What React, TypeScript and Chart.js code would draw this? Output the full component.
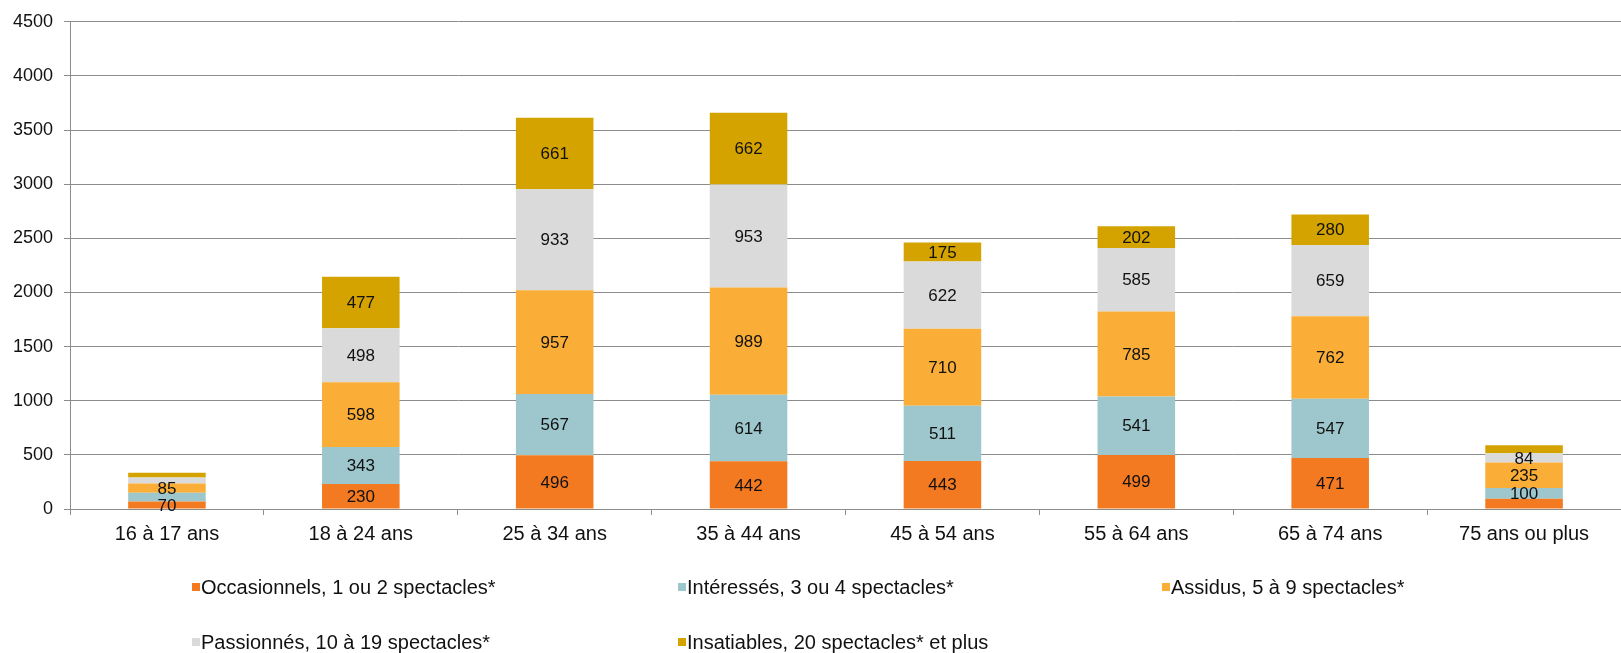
import React, { useEffect, useRef } from "react";
import { Chart, registerables } from "chart.js";

Chart.register(...registerables);

const categories = ["16 à 17 ans", "18 à 24 ans", "25 à 34 ans", "35 à 44 ans", "45 à 54 ans", "55 à 64 ans", "65 à 74 ans", "75 ans ou plus"];

const occasionnels = [70, 230, 496, 442, 443, 499, 471, 95];
const interesses = [80, 343, 567, 614, 511, 541, 547, 100];
const assidus = [85, 598, 957, 989, 710, 785, 762, 235];
const passionnes = [55, 498, 933, 953, 622, 585, 659, 84];
const insatiables = [45, 477, 661, 662, 175, 202, 280, 75];

// which values carry a printed label in the original (1 = shown)
const occasionnelsLabels = [1, 1, 1, 1, 1, 1, 1, 0];
const interessesLabels = [0, 1, 1, 1, 1, 1, 1, 1];
const assidusLabels = [1, 1, 1, 1, 1, 1, 1, 1];
const passionnesLabels = [0, 1, 1, 1, 1, 1, 1, 1];
const insatiablesLabels = [0, 1, 1, 1, 1, 1, 1, 0];

const seriesNames = [
  "Occasionnels, 1 ou 2 spectacles*",
  "Intéressés, 3 ou 4 spectacles*",
  "Assidus, 5 à 9 spectacles*",
  "Passionnés, 10 à 19 spectacles*",
  "Insatiables, 20 spectacles* et plus",
];
const yTicks = [0, 500, 1000, 1500, 2000, 2500, 3000, 3500, 4000, 4500];

const colors = ["#F37A21", "#9DC7CC", "#FAAE37", "#DADADA", "#D5A300"];
const FONT = "'Liberation Sans', Arial, sans-serif";

const labelPlugin = {
  id: "segLabels",
  afterDatasetsDraw(chart: any) {
    const ctx = chart.ctx;
    ctx.save();
    ctx.font = `17px ${FONT}`;
    ctx.fillStyle = "#111";
    ctx.textAlign = "center";
    ctx.textBaseline = "middle";
    chart.data.datasets.forEach((ds: any, di: number) => {
      const meta = chart.getDatasetMeta(di);
      meta.data.forEach((bar: any, i: number) => {
        if (!ds.showLabels[i]) return;
        const y = (bar.y + bar.base) / 2;
        ctx.fillText(String(ds.data[i]), bar.x, y + 1);
      });
    });
    ctx.restore();
  },
};

const legendPlugin = {
  id: "gridLegend",
  afterDraw(chart: any) {
    const ctx = chart.ctx;
    ctx.save();
    ctx.font = `20px ${FONT}`;
    ctx.textAlign = "left";
    ctx.textBaseline = "middle";
    const colX = [192, 678, 1162];
    const rowY = [587, 642];
    seriesNames.forEach((name, i) => {
      const x = colX[i % 3];
      const y = rowY[Math.floor(i / 3)];
      ctx.fillStyle = colors[i];
      ctx.fillRect(x, y - 4, 8, 8);
      ctx.fillStyle = "#111";
      ctx.fillText(name, x + 9, y + 1);
    });
    ctx.restore();
  },
};

export default function App() {
  const ref = useRef<HTMLCanvasElement>(null);
  useEffect(() => {
    if (!ref.current) return;
    const series = [occasionnels, interesses, assidus, passionnes, insatiables];
    const labs = [occasionnelsLabels, interessesLabels, assidusLabels, passionnesLabels, insatiablesLabels];
    const chart = new Chart(ref.current, {
      type: "bar",
      data: {
        labels: categories,
        datasets: series.map((d, i) => ({
          label: seriesNames[i],
          data: d,
          backgroundColor: colors[i],
          borderWidth: 0,
          barPercentage: 0.4,
          categoryPercentage: 1,
          showLabels: labs[i],
        })) as any,
      },
      options: {
        animation: false,
        responsive: false,
        maintainAspectRatio: false,
        layout: { padding: { top: 16, right: 0, bottom: 100, left: 0 } },
        plugins: { legend: { display: false }, tooltip: { enabled: false } },
        scales: {
          x: {
            stacked: true,
            grid: { drawOnChartArea: false, offset: true, tickLength: 6, color: "#8c8c8c" },
            border: { color: "#8c8c8c" },
            ticks: { color: "#111", font: { family: FONT, size: 20 }, padding: 7 },
            afterFit: (s: any) => { s.height = 44; },
          },
          y: {
            stacked: true,
            min: 0,
            max: 4500,
            afterBuildTicks: (s: any) => { s.ticks = yTicks.map((v) => ({ value: v })); },
            grid: { color: "#8c8c8c", tickLength: 6 },
            border: { color: "#8c8c8c" },
            ticks: { color: "#111", font: { family: FONT, size: 18 }, padding: 11, callback: (v: any) => String(v) },
            afterFit: (s: any) => { s.width = 70; },
          },
        },
      },
      plugins: [labelPlugin, legendPlugin],
    });
    return () => chart.destroy();
  }, []);
  return (
    <div style={{ position: "fixed", left: 0, top: 0, width: 1621, height: 653, background: "#fff" }}>
      <canvas ref={ref} width={1621} height={653} style={{ width: 1621, height: 653 }} />
    </div>
  );
}
